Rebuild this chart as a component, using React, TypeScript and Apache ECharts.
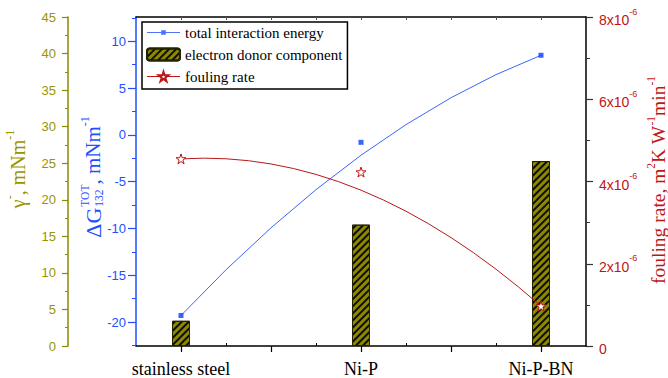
import React, { useEffect, useRef } from 'react';
import * as echarts from 'echarts';

// ---------- data ----------
const categories = ['stainless steel', 'Ni-P', 'Ni-P-BN'];
const categoryPositions = [1, 2, 3];
const totalInteractionEnergy = [-19.3, -0.8, 8.5]; // mN m-1 (blue axis)
const electronDonorComponent = [3.45, 16.6, 25.3]; // mN m-1 (olive axis)
const foulingRate = [4.55e-6, 4.23e-6, 0.97e-6]; // m2K W-1 min-1 (red axis)

const blueTicks = [-20, -15, -10, -5, 0, 5, 10];
const blueMinorTicks = [-22.5, -17.5, -12.5, -7.5, -2.5, 2.5, 7.5, 12.5];
const xMajorTicks = [1, 1.5, 2, 2.5, 3];
const xMinorTicks = [1.25, 1.75, 2.25, 2.75];
const xTopTicks = [1, 1.25, 1.5, 1.75, 2, 2.25, 2.5, 2.75, 3];

// ---------- styling ----------
const BLUE = '#1f4fff';
const BLUE_LINE = '#3a66ff';
const OLIVE = '#9a9400';
const OLIVE_BAR = '#8c8800';
const RED = '#c01515';
const RED_LINE = '#b81818';
const SERIF = 'Liberation Serif';
const SANS = 'Liberation Sans';
const STAR = 'path://M50,2 L61.2,36.5 L97.6,36.5 L68.2,57.9 L79.4,92.5 L50,71.1 L20.6,92.5 L31.8,57.9 L2.4,36.5 L38.8,36.5 Z';

let measureCtx: CanvasRenderingContext2D | null = null;
function textWidth(t: string, size: number, family: string) {
  if (!measureCtx) measureCtx = document.createElement('canvas').getContext('2d');
  if (!measureCtx) return t.length * size * 0.5;
  measureCtx.font = `${size}px "${family}"`;
  return measureCtx.measureText(t).width;
}

type Seg = { t: string; size: number; dy?: number; stack?: boolean; gap?: number };
function rotatedLabel(cx: number, cy: number, segs: Seg[], color: string, family: string) {
  let x = 0;
  let lastStart = 0;
  const children: any[] = [];
  for (const s of segs) {
    const w = textWidth(s.t, s.size, family);
    let start: number;
    if (s.stack) {
      start = lastStart;
      x = Math.max(x, start + w);
    } else {
      start = x + (s.gap || 0);
      x = start + w;
    }
    lastStart = start;
    children.push({
      type: 'text',
      x: start,
      y: s.dy || 0,
      style: { text: s.t, fontSize: s.size, fontFamily: family, fill: color, align: 'left', verticalAlign: 'middle' },
    });
  }
  return { type: 'group', x: cx, y: cy + x / 2, rotation: Math.PI / 2, children };
}

function curveRenderer(xs: number[], ys: number[], color: string, k: number) {
  return (params: any, api: any) => {
    if (params.dataIndex !== 0) return null;
    const p = xs.map((x, i) => api.coord([x, ys[i]]));
    const mx = (p[0][0] + p[2][0]) / 2;
    const my = (p[0][1] + p[2][1]) / 2;
    const cx = p[1][0] + k * (p[1][0] - mx);
    const cy = p[1][1] + k * (p[1][1] - my);
    return {
      type: 'bezierCurve',
      shape: { x1: p[0][0], y1: p[0][1], x2: p[2][0], y2: p[2][1], cpx1: cx, cpy1: cy },
      style: { stroke: color, lineWidth: 1, fill: 'none' },
    };
  };
}

export default function App() {
  const ref = useRef<HTMLDivElement>(null);
  useEffect(() => {
    if (!ref.current) return;
    const chart = echarts.init(ref.current, undefined, { renderer: 'svg' });
    const xBase = { type: 'value', min: 0.75, max: 3.25, splitLine: { show: false } };
    const blueData = categoryPositions.map((x, i) => [x, totalInteractionEnergy[i]]);
    const redData = categoryPositions.map((x, i) => [x, foulingRate[i]]);
    const barData = categoryPositions.map((x, i) => [x, electronDonorComponent[i]]);
    chart.setOption({
      animation: false,
      backgroundColor: '#fff',
      grid: { left: 136, right: 82, top: 17, bottom: 31, containLabel: false },
      xAxis: [
        {
          ...xBase,
          position: 'bottom',
          axisLine: { show: true, onZero: false, lineStyle: { color: '#000', width: 1.5 } },
          axisTick: { show: true, customValues: xMajorTicks, length: 6, lineStyle: { color: '#000', width: 1.2 } },
          axisLabel: {
            show: true,
            customValues: categoryPositions,
            formatter: (v: number) => {
              const i = categoryPositions.indexOf(v);
              return i >= 0 ? categories[i] : '';
            },
            fontFamily: SERIF,
            fontSize: 18,
            color: '#000',
            margin: 14,
          },
        },
        {
          ...xBase,
          position: 'bottom',
          axisLine: { show: false, onZero: false },
          axisTick: { show: true, inside: true, customValues: xMinorTicks, length: 3, lineStyle: { color: '#000' } },
          axisLabel: { show: false },
        },
        {
          ...xBase,
          position: 'top',
          axisLine: { show: true, onZero: false, lineStyle: { color: '#000', width: 1.5 } },
          axisTick: { show: true, inside: true, customValues: xTopTicks, length: 3, lineStyle: { color: '#555' } },
          axisLabel: { show: false },
        },
      ],
      yAxis: [
        {
          type: 'value',
          position: 'left',
          min: -22.56,
          max: 12.59,
          splitLine: { show: false },
          axisLine: { show: true, onZero: false, lineStyle: { color: BLUE, width: 1.5 } },
          axisTick: { show: true, customValues: blueTicks, length: 8, lineStyle: { color: BLUE, width: 1.2 } },
          axisLabel: { show: true, customValues: blueTicks, color: BLUE, fontFamily: SANS, fontSize: 13, margin: 10 },
        },
        {
          type: 'value',
          position: 'left',
          min: -22.56,
          max: 12.59,
          splitLine: { show: false },
          axisLine: { show: false, onZero: false },
          axisTick: { show: true, customValues: blueMinorTicks, length: 4, lineStyle: { color: BLUE } },
          axisLabel: { show: false },
        },
        {
          type: 'value',
          position: 'left',
          offset: 68,
          min: 0,
          max: 45,
          interval: 5,
          splitLine: { show: false },
          axisLine: { show: true, onZero: false, lineStyle: { color: OLIVE_BAR, width: 1.5 } },
          axisTick: { show: true, length: 6, lineStyle: { color: OLIVE_BAR, width: 1.2 } },
          minorTick: { show: true, splitNumber: 2, length: 3, lineStyle: { color: OLIVE_BAR } },
          axisLabel: { color: OLIVE, fontFamily: SANS, fontSize: 13, margin: 12 },
        },
        {
          type: 'value',
          position: 'right',
          min: 0,
          max: 8e-6,
          interval: 2e-6,
          splitLine: { show: false },
          axisLine: { show: true, onZero: false, lineStyle: { color: '#000', width: 1.5 } },
          axisTick: { show: true, length: 7, lineStyle: { color: '#333', width: 1.2 } },
          minorTick: { show: true, splitNumber: 2, length: 4, lineStyle: { color: '#333' } },
          axisLabel: {
            margin: 13,
            formatter: (v: number) => (v === 0 ? '{m|0}' : `{m|${Math.round(v * 1e6)}x10}{s|-6}`),
            rich: {
              m: { color: RED, fontFamily: SANS, fontSize: 14, lineHeight: 20, verticalAlign: 'bottom' },
              s: { color: RED, fontFamily: SANS, fontSize: 9, lineHeight: 8, verticalAlign: 'top' },
            },
          },
        },
      ],
      legend: {
        orient: 'vertical',
        left: 142,
        top: 22,
        padding: [3, 5, 5, 4],
        itemGap: 7,
        itemWidth: 33,
        itemHeight: 12,
        borderColor: '#000',
        borderWidth: 1.5,
        borderRadius: 0,
        backgroundColor: '#fff',
        selectedMode: false,
        textStyle: { fontFamily: SERIF, fontSize: 15, color: '#000' },
        lineStyle: { opacity: 1, width: 1 },
        data: [
          { name: 'total interaction energy', icon: 'path://M0,5.5H33V6.5H0Z M14.2,3.7H18.8V8.3H14.2Z', itemStyle: { color: BLUE } },
          { name: 'electron donor component' },
          { name: 'fouling rate' },
        ],
      },
      series: [
        {
          name: 'electron donor component',
          type: 'bar',
          xAxisIndex: 0,
          yAxisIndex: 2,
          barWidth: 18,
          data: barData,
          itemStyle: {
            color: OLIVE_BAR,
            borderColor: '#222200',
            borderWidth: 1,
            decal: {
              symbol: 'rect',
              symbolSize: 1,
              color: 'rgba(0,0,0,0.9)',
              dashArrayX: [1, 0],
              dashArrayY: [1.3, 3],
              rotation: -Math.PI / 4,
            },
          },
          z: 2,
        },
        {
          name: 'fouling rate',
          type: 'line',
          xAxisIndex: 0,
          yAxisIndex: 3,
          data: redData,
          symbol: STAR,
          symbolSize: 10,
          showSymbol: true,
          lineStyle: { color: RED_LINE, width: 1, opacity: 0 },
          itemStyle: { color: '#fff', borderColor: RED, borderWidth: 1 },
          z: 4,
        },
        {
          name: 'total interaction energy',
          type: 'scatter',
          xAxisIndex: 0,
          yAxisIndex: 0,
          data: blueData,
          symbol: 'rect',
          symbolSize: 5,
          itemStyle: { color: '#0a3cff' },
          z: 4,
        },
        {
          name: 'total interaction energy',
          type: 'custom',
          xAxisIndex: 0,
          yAxisIndex: 0,
          data: blueData,
          renderItem: curveRenderer(categoryPositions, totalInteractionEnergy, BLUE_LINE, 0.4),
          z: 3,
        },
        {
          name: 'fouling rate',
          type: 'custom',
          xAxisIndex: 0,
          yAxisIndex: 3,
          data: redData,
          renderItem: curveRenderer(categoryPositions, foulingRate, RED_LINE, 0.4),
          z: 3,
        },
      ],
      graphic: [
        rotatedLabel(18, 169, [
          { t: 'γ', size: 20 },
          { t: '-', size: 12, dy: -8 },
          { t: ', mNm', size: 20 },
          { t: '-1', size: 12, dy: -8 },
        ], OLIVE, SERIF),
        rotatedLabel(93, 177, [
          { t: 'ΔG', size: 22 },
          { t: 'TOT', size: 11.5, dy: -8, gap: 1 },
          { t: '132', size: 11.5, dy: 6, stack: true },
          { t: ', mNm', size: 21 },
          { t: '-1', size: 12, dy: -8 },
        ], BLUE, SERIF),
        rotatedLabel(658, 180, [
          { t: 'fouling rate, m', size: 19.5 },
          { t: '2', size: 11.5, dy: -7 },
          { t: 'K W', size: 19.5 },
          { t: '-1', size: 11.5, dy: -7 },
          { t: 'min', size: 19.5 },
          { t: '-1', size: 11.5, dy: -7 },
        ], RED, SERIF),
      ],
    });
    return () => chart.dispose();
  }, []);
  return <div ref={ref} style={{ position: 'fixed', left: 0, top: 0, width: 668, height: 378 }} />;
}
